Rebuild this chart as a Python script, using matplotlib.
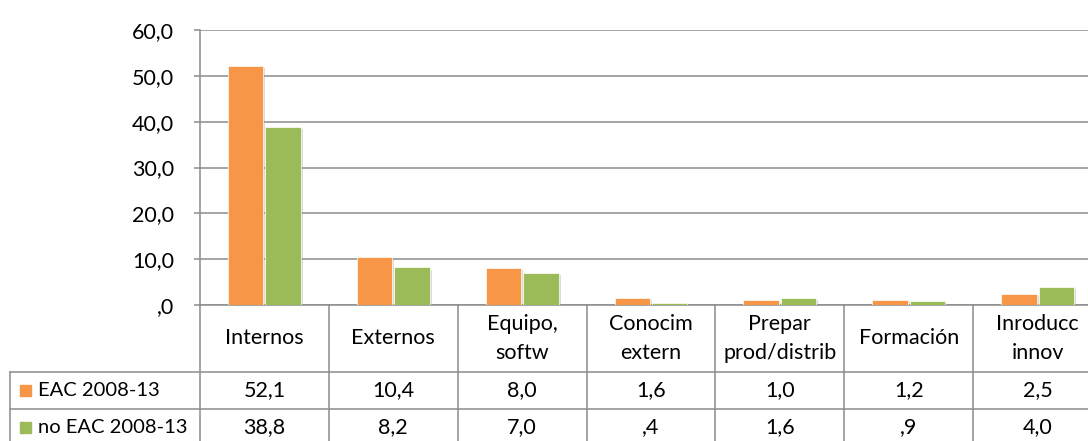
import matplotlib.pyplot as plt
import matplotlib.patheffects as pe
import numpy as np

# data
categories = ['Internos', 'Externos', 'Equipo,\nsoftw', 'Conocim\nextern',
              'Prepar\nprod/distrib', 'Formación', 'Inroducc\ninnov']
series_names = ['EAC 2008-13', 'no EAC 2008-13']
eac = [52.1, 10.4, 8.0, 1.6, 1.0, 1.2, 2.5]
no_eac = [38.8, 8.2, 7.0, 0.4, 1.6, 0.9, 4.0]
yticks = [0, 10, 20, 30, 40, 50, 60]
ytick_labels = [',0', '10,0', '20,0', '30,0', '40,0', '50,0', '60,0']

colors = ['#F79646', '#9BBB59']
grid_c = '#8C8C8C'

plt.rcParams['font.family'] = ['Lato', 'DejaVu Sans']
FS = 15.5

W, H = 1088, 441
fig = plt.figure(figsize=(W / 100, H / 100), dpi=100)

# pixel layout
x0, x_end = 200, 1102
y_top, y_zero = 30, 305
col_w = (x_end - x0) / len(categories)

ax = fig.add_axes([x0 / W, (H - y_zero) / H, (x_end - x0) / W, (y_zero - y_top) / H])
x = np.arange(len(categories))
bw = 0.275
shadow = [pe.SimplePatchShadow(offset=(1.5, -1.5), shadow_rgbFace='#999999', alpha=0.35), pe.Normal()]
b1 = ax.bar(x - bw / 2 - 0.008, eac, bw, color=colors[0], edgecolor='white', linewidth=0.5, zorder=3)
b2 = ax.bar(x + bw / 2 + 0.008, no_eac, bw, color=colors[1], edgecolor='white', linewidth=0.5, zorder=3)
for b in list(b1) + list(b2):
    b.set_path_effects(shadow)

ax.set_xlim(-0.5, len(categories) - 0.5)
ax.set_ylim(0, 60)
ax.set_yticks(yticks)
ax.set_yticklabels(ytick_labels, fontsize=FS)
ax.set_xticks([])
ax.yaxis.grid(True, color=grid_c, linewidth=1.1, zorder=0)
ax.tick_params(axis='y', length=4.5, width=1.1, color=grid_c, pad=14)
for s in ['top', 'right']:
    ax.spines[s].set_visible(False)
for s in ['left', 'bottom']:
    ax.spines[s].set_color(grid_c)
    ax.spines[s].set_linewidth(1.1)

# data table below the plot
leg_x0 = 10
row_lines = [305, 372, 409, 446]
tx = fig.add_axes([leg_x0 / W, (H - row_lines[-1]) / H, (x_end - leg_x0) / W,
                   (row_lines[-1] - row_lines[0]) / H])
left_lim = -0.5 - (x0 - leg_x0) / col_w
tx.set_xlim(left_lim, len(categories) - 0.5)
tx.set_ylim(row_lines[-1], row_lines[0])
tx.axis('off')

lw = 1.1
# vertical lines at category boundaries
for i in range(len(categories) + 1):
    tx.plot([i - 0.5, i - 0.5], [row_lines[0], row_lines[-1]], color=grid_c, lw=lw, clip_on=False)
# horizontal lines of data rows
for yl in row_lines[1:]:
    tx.plot([left_lim, len(categories) - 0.5], [yl, yl], color=grid_c, lw=lw, clip_on=False)
tx.plot([left_lim, left_lim], [row_lines[1], row_lines[-1]], color=grid_c, lw=lw, clip_on=False)

# header text, one line at a time so each is centred
yh = (row_lines[0] + row_lines[1]) / 2
line_h = 29
for i, c in enumerate(categories):
    lines = c.split('\n')
    n = len(lines)
    for k, t in enumerate(lines):
        yy = yh + (k - (n - 1) / 2) * line_h
        tx.text(i, yy, t, ha='center', va='center', fontsize=FS, color='black')

def fmt(v):
    s = f'{v:.1f}'.replace('.', ',')
    return s[1:] if s.startswith('0') else s

for r, (name, vals) in enumerate(zip(series_names, [eac, no_eac])):
    yc = (row_lines[r + 1] + row_lines[r + 2]) / 2
    key_w = 11 / col_w
    tx.add_patch(plt.Rectangle((left_lim + 10 / col_w, yc - 5.5), key_w, 11,
                               color=colors[r], clip_on=False))
    tx.text(left_lim + 28 / col_w, yc, name, ha='left', va='center', fontsize=14.5)
    for i, v in enumerate(vals):
        tx.text(i, yc, fmt(v), ha='center', va='center', fontsize=FS)

fig.savefig('out.png', dpi=100)
